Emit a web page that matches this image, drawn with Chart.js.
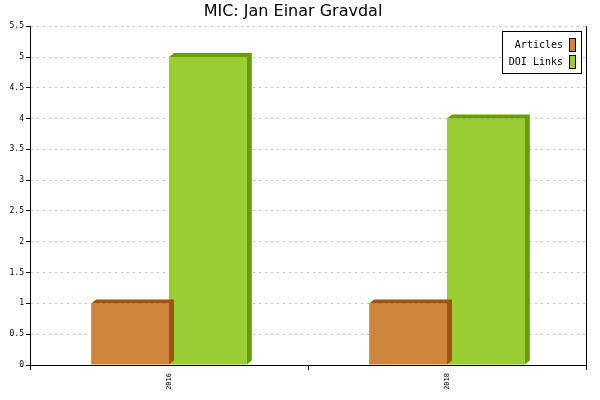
<!DOCTYPE html>
<html><head><script src="https://cdn.jsdelivr.net/npm/chart.js@4"></script>
<style>body{margin:0;background:#fff}#w{width:600px;height:400px}</style></head>
<body><div id="w"><canvas id="c"></canvas></div>
<script>
const categories = ["2016", "2018"];
const articles = [1, 1];
const doiLinks = [5, 4];
const yTicks = [0,0.5,1,1.5,2,2.5,3,3.5,4,4.5,5,5.5];

const threeD = {
  id: 'threeD',
  afterDatasetDraw(chart, args) {
    const ctx = chart.ctx, dx = 5, dy = 4, i = args.index;
    const shades = ['#a0520f', '#6a9e00'];
    ctx.save();
    chart.getDatasetMeta(i).data.forEach(b => {
      const l = b.x - b.width / 2, r = b.x + b.width / 2, t = b.y, bt = b.base;
      ctx.fillStyle = shades[i];
      ctx.beginPath();
      ctx.moveTo(l, t); ctx.lineTo(l + dx, t - dy); ctx.lineTo(r + dx, t - dy);
      ctx.lineTo(r + dx, bt - dy); ctx.lineTo(r, bt); ctx.lineTo(r, t); ctx.closePath(); ctx.fill();
    });
    ctx.restore();
  },
  afterDraw(chart) {
    const ctx = chart.ctx, a = chart.chartArea;
    ctx.save();
    ctx.strokeStyle = '#000'; ctx.lineWidth = 1;
    ctx.beginPath(); ctx.moveTo(a.right + 0.5, a.top); ctx.lineTo(a.right + 0.5, a.bottom); ctx.stroke();
    const x = 502, y = 31, w = 79, h = 42;
    ctx.fillStyle = '#fff'; ctx.fillRect(x, y, w, h);
    ctx.strokeRect(x + 0.5, y + 0.5, w, h);
    ctx.font = '10px "DejaVu Sans Mono"'; ctx.textAlign = 'right'; ctx.textBaseline = 'middle';
    chart.data.datasets.forEach((ds, i) => {
      const cy = y + 14 + i * 17;
      ctx.fillStyle = '#000'; ctx.fillText(ds.label, x + 61, cy);
      ctx.fillStyle = ds.backgroundColor; ctx.fillRect(x + 67, cy - 7, 7, 14);
      ctx.strokeRect(x + 67.5, cy - 6.5, 6, 13);
    });
    ctx.restore();
  }
};

new Chart(document.getElementById('c'), {
  type: 'bar',
  data: { labels: categories, datasets: [
    { label: 'Articles', data: articles, backgroundColor: '#d0853f' },
    { label: 'DOI Links', data: doiLinks, backgroundColor: '#9acd32' }
  ]},
  options: {
    animation: false, responsive: true, maintainAspectRatio: false,
    layout: { padding: { left: 0, right: 14, top: 0, bottom: 0 } },
    plugins: {
      legend: { display: false }, tooltip: { enabled: false },
      title: { display: true, text: 'MIC: Jan Einar Gravdal', color: '#000',
        font: { family: 'DejaVu Sans', size: 16, weight: 'normal' }, padding: { top: 2, bottom: 5 } }
    },
    datasets: { bar: { categoryPercentage: 0.56, barPercentage: 1 } },
    scales: {
      x: {
        grid: { offset: true, drawOnChartArea: false, tickLength: 5, color: '#000' },
        border: { color: '#000', width: 1 },
        ticks: { maxRotation: 90, minRotation: 90, color: '#000', font: { family: 'DejaVu Sans Mono', size: 7 } },
        afterFit(s) { s.height = 35; }
      },
      y: {
        min: 0, max: 5.5,
        afterBuildTicks(s) { s.ticks = yTicks.map(v => ({ value: v })); },
        grid: { color: '#bbb', tickLength: 4, tickColor: '#000' },
        border: { color: '#000', dash: [2, 4] },
        ticks: { color: '#000', font: { family: 'DejaVu Sans Mono', size: 8 }, padding: 2,
          callback: v => String(v) },
        afterFit(s) { s.width = 30; }
      }
    }
  },
  plugins: [threeD]
});
</script></body></html>
